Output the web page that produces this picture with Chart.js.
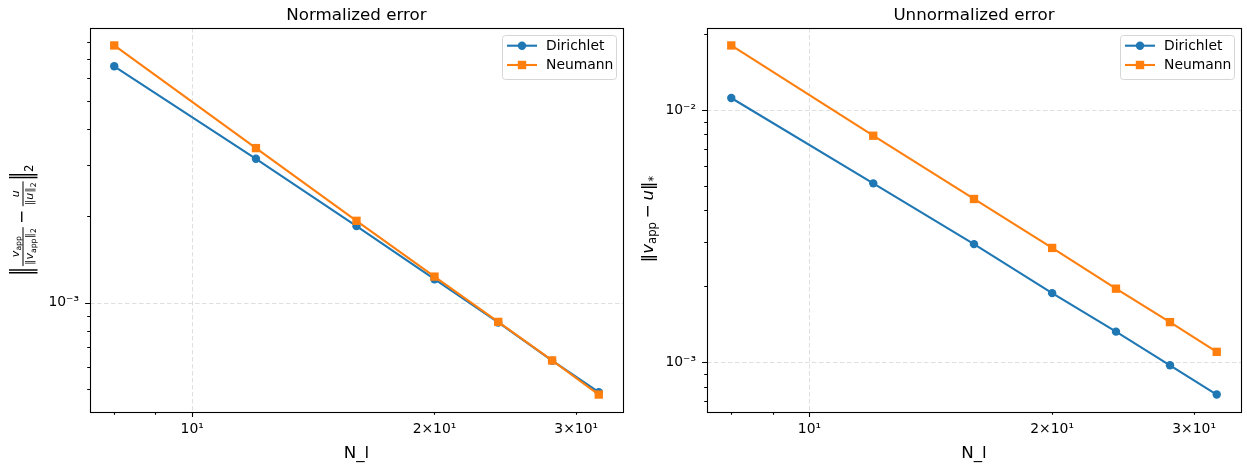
<!DOCTYPE html>
<html>
<head>
<meta charset="utf-8">
<script src="https://cdn.jsdelivr.net/npm/chart.js@4.4.0/dist/chart.umd.min.js"></script>
<style>
  html, body { margin: 0; padding: 0; background: #fff; }
  #wrap { position: relative; width: 1247px; height: 465px; overflow: hidden; }
  canvas { position: absolute; top: 0; }
</style>
</head>
<body>
<div id="wrap">
  <canvas id="left" width="630" height="465" style="left:0"></canvas>
  <canvas id="right" width="623" height="465" style="left:625px"></canvas>
</div>
<script>
// N_l values (x axis) and the errors
const nl = [8, 12, 16, 20, 24, 28, 32];
const normDirichlet = [6.59e-3, 3.15e-3, 1.84e-3, 1.205e-3, 8.53e-4, 6.29e-4, 4.89e-4];
const normNeumann = [7.78e-3, 3.43e-3, 1.92e-3, 1.23e-3, 8.57e-4, 6.30e-4, 4.80e-4];
const unnormDirichlet = [1.116e-2, 5.12e-3, 2.94e-3, 1.88e-3, 1.323e-3, 9.73e-4, 7.45e-4];
const unnormNeumann = [1.803e-2, 7.91e-3, 4.44e-3, 2.84e-3, 1.958e-3, 1.443e-3, 1.10e-3];
const seriesNames = ['Dirichlet', 'Neumann'];

const xTickValues = [10, 20, 30];
const xTickLabels = ['10¹', '2×10¹', '3×10¹'];
const yTickValues = [1e-3, 1e-2];
const yTickLabels = ['10⁻³', '10⁻²'];

const BLUE = '#1f77b4';
const ORANGE = '#ff7f0e';
const FONT = '"DejaVu Sans", sans-serif';
const TICK_SIZE = 13.9;

function fnt(size, italic) {
  return (italic ? 'italic ' : '') + size + 'px ' + FONT;
}

// 5% margin in log space, like matplotlib autoscale
function logRange(values) {
  const lo = Math.log10(Math.min(...values));
  const hi = Math.log10(Math.max(...values));
  const m = (hi - lo) * 0.05;
  return [Math.pow(10, lo - m), Math.pow(10, hi + m)];
}

function labelFor(values, labels, v) {
  const i = values.findIndex(t => Math.abs(t - v) / t < 1e-9);
  return i < 0 ? '' : labels[i];
}

function decadeTicks(min, max) {
  const major = [], minor = [];
  for (let e = Math.floor(Math.log10(min)); e <= Math.ceil(Math.log10(max)); e++) {
    const base = Math.pow(10, e);
    if (base >= min && base <= max) major.push(base);
    for (let k = 2; k <= 9; k++) {
      const v = k * base;
      if (v >= min && v <= max) minor.push(v);
    }
  }
  return { major, minor };
}

function partsWidth(ctx, parts) {
  let w = 0;
  for (const p of parts) { ctx.font = p.f; w += ctx.measureText(p.t).width + (p.gap || 0); }
  return w;
}

function drawParts(ctx, parts, x, y) {
  for (const p of parts) {
    ctx.font = p.f;
    ctx.fillText(p.t, x, y + (p.dy || 0));
    x += ctx.measureText(p.t).width + (p.gap || 0);
  }
  return x;
}

// ‖ v_app/‖v_app‖₂ − u/‖u‖₂ ‖₂  (rotated)
function drawNormLabel(ctx, cx, cy) {
  const big = 16.7, fr = 11, sc = 7.7;
  const num1 = [{ t: 'v', f: fnt(fr, true) }, { t: 'app', f: fnt(sc), dy: 2.2 }];
  const den1 = [{ t: '‖', f: fnt(fr) }, { t: 'v', f: fnt(fr, true) }, { t: 'app', f: fnt(sc), dy: 2.2 },
                { t: '‖', f: fnt(fr) }, { t: '2', f: fnt(sc), dy: 2.2 }];
  const num2 = [{ t: 'u', f: fnt(fr, true) }];
  const den2 = [{ t: '‖', f: fnt(fr) }, { t: 'u', f: fnt(fr, true) }, { t: '‖', f: fnt(fr) },
                { t: '2', f: fnt(sc), dy: 2.2 }];

  ctx.save();
  ctx.translate(cx, cy);
  ctx.rotate(-Math.PI / 2);
  ctx.fillStyle = '#000';
  ctx.textAlign = 'left';
  ctx.textBaseline = 'alphabetic';

  ctx.font = fnt(big);
  const bigW = ctx.measureText('‖').width;
  const minusW = ctx.measureText('−').width;
  ctx.font = fnt(11.7);
  const subW = ctx.measureText('2').width;
  const w1 = Math.max(partsWidth(ctx, num1), partsWidth(ctx, den1)) + 2;
  const w2 = Math.max(partsWidth(ctx, num2), partsWidth(ctx, den2)) + 2;
  const total = bigW + 1 + w1 + 3.5 + minusW + 3.5 + w2 + 1 + bigW + subW;

  const bigBar = (x) => {
    ctx.save();
    ctx.font = fnt(big);
    ctx.translate(x, 8.3);
    ctx.scale(1, 1.68);
    ctx.fillText('‖', 0, 0);
    ctx.restore();
  };
  const frac = (x, w, num, den) => {
    ctx.fillRect(x, -0.5, w, 1);
    drawParts(ctx, num, x + (w - partsWidth(ctx, num)) / 2, -4.5);
    drawParts(ctx, den, x + (w - partsWidth(ctx, den)) / 2, 10.4);
  };

  let x = -total / 2;
  bigBar(x); x += bigW + 1;
  frac(x, w1, num1, den1); x += w1 + 3.5;
  ctx.font = fnt(big);
  ctx.fillText('−', x, 4.3); x += minusW + 3.5;
  frac(x, w2, num2, den2); x += w2 + 1;
  bigBar(x); x += bigW;
  ctx.font = fnt(11.7);
  ctx.fillText('2', x, 10);
  ctx.restore();
}

// ‖v_app − u‖_*  (rotated)
function drawUnnormLabel(ctx, bx, cy) {
  const big = 16.7, sc = 11.7;
  const parts = [
    { t: '‖', f: fnt(big) }, { t: 'v', f: fnt(big, true) }, { t: 'app', f: fnt(sc), dy: 3, gap: 3.7 },
    { t: '−', f: fnt(big), gap: 3.7 }, { t: 'u', f: fnt(big, true) }, { t: '‖', f: fnt(big) },
    { t: '*', f: fnt(sc), dy: 3.6 }
  ];
  ctx.save();
  ctx.translate(bx, cy);
  ctx.rotate(-Math.PI / 2);
  ctx.fillStyle = '#000';
  ctx.textAlign = 'left';
  ctx.textBaseline = 'alphabetic';
  drawParts(ctx, parts, -partsWidth(ctx, parts) / 2, 0);
  ctx.restore();
}

function drawMarker(ctx, style, x, y, color) {
  ctx.fillStyle = color;
  ctx.beginPath();
  if (style === 'rect') ctx.rect(x - 4.2, y - 4.2, 8.4, 8.4);
  else ctx.arc(x, y, 4.2, 0, Math.PI * 2);
  ctx.fill();
}

const axesDecor = {
  id: 'axesDecor',
  beforeDatasetsDraw(chart) {
    const { ctx, chartArea: a, scales: { x, y } } = chart;
    const gx = decadeTicks(x.min, x.max), gy = decadeTicks(y.min, y.max);
    ctx.save();
    ctx.strokeStyle = 'rgba(176,176,176,0.45)';
    ctx.lineWidth = 0.9;
    ctx.setLineDash([4.5, 2.5]);
    ctx.beginPath();
    for (const v of gx.major) {
      const px = Math.round(x.getPixelForValue(v)) + 0.5;
      ctx.moveTo(px, a.top); ctx.lineTo(px, a.bottom);
    }
    for (const v of gy.major) {
      const py = Math.round(y.getPixelForValue(v)) + 0.5;
      ctx.moveTo(a.left, py); ctx.lineTo(a.right, py);
    }
    ctx.stroke();
    ctx.restore();
  },
  afterDraw(chart, args, o) {
    const { ctx, chartArea: a, scales: { x, y } } = chart;
    const gx = decadeTicks(x.min, x.max), gy = decadeTicks(y.min, y.max);
    ctx.save();
    // spines
    ctx.strokeStyle = '#000';
    ctx.lineWidth = 1.1;
    ctx.strokeRect(Math.round(a.left) + 0.5, Math.round(a.top) + 0.5,
                   Math.round(a.right - a.left), Math.round(a.bottom - a.top));
    // tick marks: major 4.9px, minor 2.8px, outward
    ctx.beginPath();
    const tick = (v, len, axis) => {
      if (axis === 'x') {
        const px = Math.round(x.getPixelForValue(v)) + 0.5;
        ctx.moveTo(px, a.bottom); ctx.lineTo(px, a.bottom + len);
      } else {
        const py = Math.round(y.getPixelForValue(v)) + 0.5;
        ctx.moveTo(a.left, py); ctx.lineTo(a.left - len, py);
      }
    };
    gx.major.forEach(v => tick(v, 4.9, 'x'));
    gx.minor.forEach(v => tick(v, 2.8, 'x'));
    gy.major.forEach(v => tick(v, 4.9, 'y'));
    gy.minor.forEach(v => tick(v, 2.8, 'y'));
    ctx.stroke();

    // title and x label
    const cx = (a.left + a.right) / 2;
    ctx.fillStyle = '#000';
    ctx.textAlign = 'center';
    ctx.textBaseline = 'alphabetic';
    ctx.font = fnt(16.7);
    ctx.fillText(o.title, cx, 20);
    ctx.fillText('N_l', cx, 458);

    // y label
    if (o.ylabel === 'norm') drawNormLabel(ctx, 23, (a.top + a.bottom) / 2);
    else drawUnnormLabel(ctx, a.left - 54, (a.top + a.bottom) / 2 - 1);

    // legend
    const bw = 114, bh = 44;
    const lx = a.right - 7 - bw, ly = a.top + 7;
    ctx.beginPath();
    ctx.roundRect(lx + 0.5, ly + 0.5, bw, bh, 3);
    ctx.fillStyle = 'rgba(255,255,255,0.8)';
    ctx.fill();
    ctx.strokeStyle = '#d6d6d6';
    ctx.lineWidth = 1;
    ctx.stroke();
    chart.data.datasets.forEach((ds, i) => {
      const ry = ly + 10.7 + i * 19.3;
      ctx.strokeStyle = ds.borderColor;
      ctx.lineWidth = 2.1;
      ctx.beginPath();
      ctx.moveTo(lx + 5, ry); ctx.lineTo(lx + 35, ry);
      ctx.stroke();
      drawMarker(ctx, ds.pointStyle, lx + 20, ry, ds.borderColor);
      ctx.fillStyle = '#000';
      ctx.textAlign = 'left';
      ctx.textBaseline = 'middle';
      ctx.font = fnt(TICK_SIZE);
      ctx.fillText(ds.label, lx + 44, ry + 0.5);
    });
    ctx.restore();
  }
};

function makeChart(id, title, ylabel, dir, neu, yAxisWidth, padRight) {
  const xr = logRange(nl);
  const yr = logRange(dir.concat(neu));
  const pts = ys => nl.map((v, i) => ({ x: v, y: ys[i] }));
  const dataset = (label, ys, color, style, order) => ({
    label: label,
    data: pts(ys),
    borderColor: color,
    backgroundColor: color,
    borderWidth: 2.1,
    pointStyle: style,
    pointRadius: style === 'rect' ? 5.9 : 4.2,
    pointBorderWidth: 0,
    showLine: true,
    tension: 0,
    order: order
  });
  const tickFont = { family: FONT, size: TICK_SIZE };
  return new Chart(document.getElementById(id), {
    type: 'scatter',
    data: {
      datasets: [
        dataset(seriesNames[0], dir, BLUE, 'circle', 1),
        dataset(seriesNames[1], neu, ORANGE, 'rect', 0)
      ]
    },
    options: {
      responsive: false,
      animation: false,
      devicePixelRatio: 1,
      layout: { padding: { top: 28, right: padRight, left: 0, bottom: 0 } },
      plugins: {
        legend: { display: false },
        tooltip: { enabled: false },
        axesDecor: { title: title, ylabel: ylabel }
      },
      scales: {
        x: {
          type: 'logarithmic',
          min: xr[0], max: xr[1],
          bounds: 'data',
          grid: { display: false, drawTicks: false },
          border: { display: false },
          ticks: {
            autoSkip: false, maxRotation: 0, padding: 9, color: '#000', font: tickFont,
            callback: v => labelFor(xTickValues, xTickLabels, v)
          },
          afterBuildTicks: s => {
            s.ticks = xTickValues.filter(v => v >= s.min && v <= s.max).map(v => ({ value: v }));
          },
          afterFit: s => { s.height = 53; }
        },
        y: {
          type: 'logarithmic',
          min: yr[0], max: yr[1],
          bounds: 'data',
          grid: { display: false, drawTicks: false },
          border: { display: false },
          ticks: {
            autoSkip: false, padding: 11, color: '#000', font: tickFont,
            callback: v => labelFor(yTickValues, yTickLabels, v)
          },
          afterBuildTicks: s => {
            s.ticks = yTickValues.filter(v => v >= s.min && v <= s.max).map(v => ({ value: v }));
          },
          afterFit: s => { s.width = yAxisWidth; }
        }
      }
    },
    plugins: [axesDecor]
  });
}

makeChart('left', 'Normalized error', 'norm', normDirichlet, normNeumann, 90, 7);
makeChart('right', 'Unnormalized error', 'unnorm', unnormDirichlet, unnormNeumann, 82, 7);
</script>
</body>
</html>
